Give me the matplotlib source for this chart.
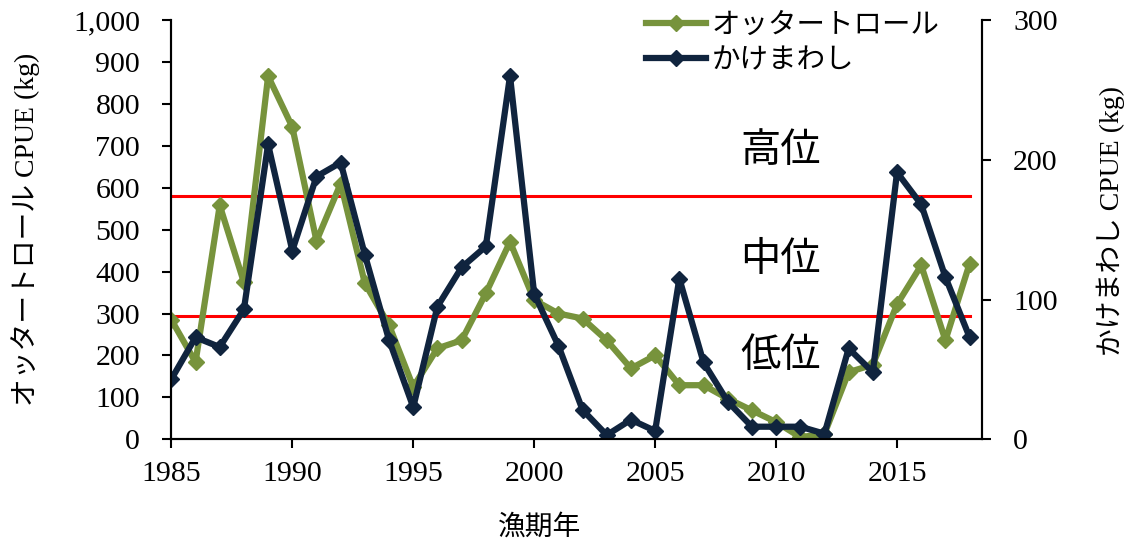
import matplotlib
matplotlib.use("Agg")
import matplotlib.pyplot as plt
from matplotlib.ticker import FuncFormatter

plt.rcParams['font.family'] = ['Liberation Serif', 'Noto Sans CJK JP']

# data
years = list(range(1985, 2019))
otter_cpue = [285, 184, 558, 374, 866, 745, 473, 610, 372, 272,
              125, 217, 236, 348, 471, 332, 300, 288, 236, 169,
              200, 129, 129, 97, 69, 41, 5, 13, 160, 178,
              322, 415, 236, 419]
kake_cpue = [43, 73, 66, 93, 211, 135, 188, 198, 132, 71,
             23, 95, 123, 138, 260, 104, 67, 21, 3, 14,
             6, 115, 55, 27, 9, 9, 9, 4, 65, 48,
             191, 168, 116, 73]
high_line = 580
low_line = 295
levels = ['高位', '中位', '低位']
level_y = [683, 425, 196]

green = '#77933C'
navy = '#10243E'

fig = plt.figure(figsize=(11.31, 5.5), dpi=100)
ax = fig.add_axes([0.1515, 0.2013, 0.7165, 0.7623])
ax2 = ax.twinx()

ax.plot([years[0], years[-1]], [high_line, high_line], color='#FF0000', lw=2.2, zorder=1)
ax.plot([years[0], years[-1]], [low_line, low_line], color='#FF0000', lw=2.2, zorder=1)

l1, = ax.plot(years, otter_cpue, color=green, lw=4.5, marker='D', ms=8, label='オッタートロール')
l2, = ax2.plot(years, kake_cpue, color=navy, lw=4.5, marker='D', ms=8, label='かけまわし')

ax.set_xlim(1985, 2018.5)
ax.set_ylim(0, 1000)
ax2.set_ylim(0, 300)
ax.set_xticks(range(1985, 2016, 5))
ax.set_yticks(range(0, 1001, 100))
ax2.set_yticks(range(0, 301, 100))
ax.yaxis.set_major_formatter(FuncFormatter(lambda v, p: f'{int(v):,}'))

for a in (ax, ax2):
    a.spines['top'].set_visible(False)
    a.tick_params(labelsize=21.5, length=6.5, width=1.5, direction='out')
    for s in a.spines.values():
        s.set_linewidth(1.5)
ax.tick_params(axis='y', pad=16)
ax2.tick_params(axis='y', pad=16)
ax.tick_params(axis='x', pad=9)

for name, yv in zip(levels, level_y):
    ax.text(2010.17, yv, name, fontsize=29, ha='center', va='center')

ax.set_ylabel('オッタートロール CPUE (kg)', fontsize=20)
ax.yaxis.set_label_coords(-0.162, 0.5)
ax2.set_ylabel('かけまわし CPUE (kg)', fontsize=20)
ax2.yaxis.set_label_coords(1.142, 0.52)
ax.set_xlabel('漁期年', fontsize=20)
ax.xaxis.set_label_coords(0.455, -0.18)

ax.legend(handles=[l1, l2], loc='upper left', bbox_to_anchor=(0.572, 1.045),
          frameon=False, fontsize=20.5, handlelength=2.1, handletextpad=0.2,
          labelspacing=0.35, borderaxespad=0)

fig.savefig('out.png', dpi=100)
